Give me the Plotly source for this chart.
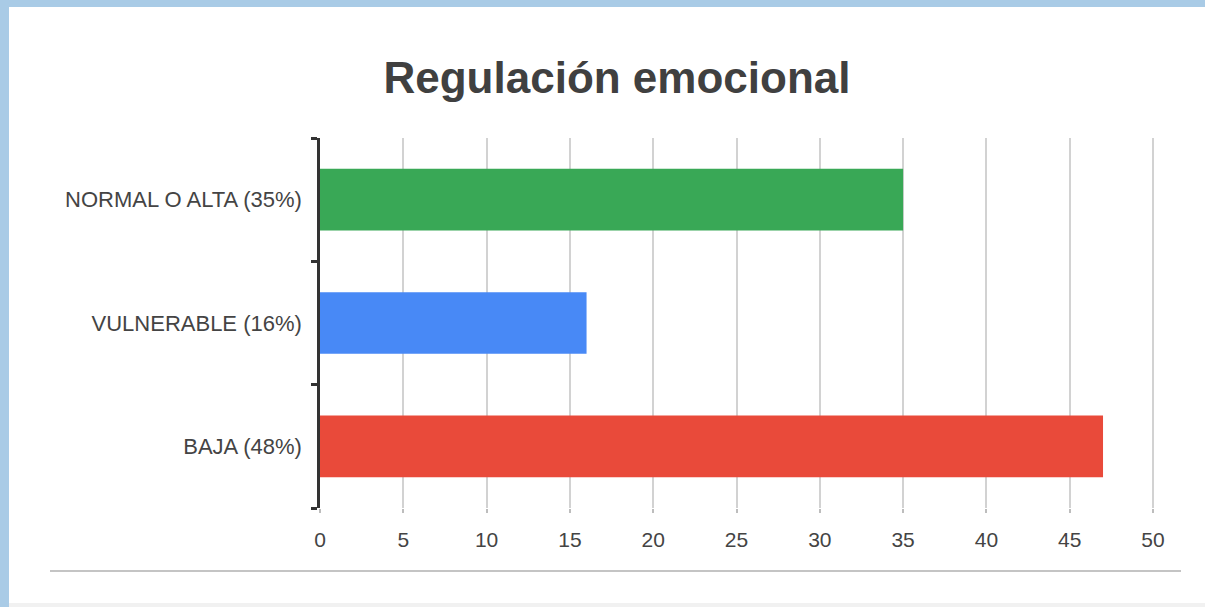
import plotly.graph_objects as go

# ---- data ----
categories = ["NORMAL O ALTA (35%)", "VULNERABLE (16%)", "BAJA (48%)"]
values = [35, 16, 47]
bar_colors = ["#39a856", "#4889f6", "#e94a3a"]
x_ticks = [0, 5, 10, 15, 20, 25, 30, 35, 40, 45, 50]
title_text = "Regulación emocional"

W, H = 1205, 607
L, R, T, B = 320, 1155, 138, 508  # plot area in pixels
X_MAX = 50.12


def px(x):
    return (x - L) / (R - L)


def py(y):
    return (B - y) / (B - T)


fig = go.Figure(
    go.Bar(
        x=values,
        y=categories,
        orientation="h",
        marker=dict(color=bar_colors, line=dict(width=0)),
        width=0.5,
        hoverinfo="x+y",
    )
)

shapes = [
    # white panel over the blue window frame
    dict(type="rect", xref="paper", yref="paper", layer="below",
         x0=px(9), x1=px(W + 5), y0=py(603), y1=py(7),
         fillcolor="white", line=dict(width=0)),
    # light bottom strip
    dict(type="rect", xref="paper", yref="paper", layer="below",
         x0=px(9), x1=px(W + 5), y0=py(H + 5), y1=py(603),
         fillcolor="#f1f1f1", line=dict(width=0)),
    # horizontal separator line
    dict(type="line", xref="paper", yref="paper",
         x0=px(50), x1=px(1181), y0=py(571), y1=py(571),
         line=dict(color="#c4c4c4", width=2)),
]

fig.update_layout(
    width=W,
    height=H,
    margin=dict(l=L, r=W - R, t=T, b=H - B, pad=0),
    paper_bgcolor="#a9cbe6",
    plot_bgcolor="white",
    showlegend=False,
    font=dict(family="Liberation Sans, Arial, sans-serif", color="#444444"),
    title=dict(
        text="<b>" + title_text + "</b>",
        x=617 / W, xref="container", xanchor="center",
        y=1 - 78 / H, yref="container", yanchor="middle",
        font=dict(size=44, color="#404040", family="Liberation Sans, Arial, sans-serif"),
    ),
    xaxis=dict(
        range=[0, X_MAX],
        tickvals=x_ticks,
        ticktext=[str(v) for v in x_ticks],
        showgrid=True,
        gridcolor="#d2d2d2",
        gridwidth=1.5,
        zeroline=False,
        showline=False,
        ticks="outside",
        ticklen=4,
        tickcolor="#bdbdbd",
        tickwidth=1.5,
        ticklabelstandoff=9,
        tickfont=dict(size=21, color="#444444"),
        fixedrange=True,
    ),
    yaxis=dict(
        categoryorder="array",
        categoryarray=categories[::-1],
        showgrid=False,
        zeroline=False,
        showline=True,
        linecolor="#333333",
        linewidth=2.5,
        ticks="outside",
        tickson="boundaries",
        ticklen=6,
        tickwidth=2.5,
        tickcolor="#333333",
        ticklabelstandoff=11,
        tickfont=dict(size=22, color="#444444"),
        fixedrange=True,
    ),
    shapes=shapes,
    bargap=0.5,
)

fig.write_html(
    "out.html",
    config={"displayModeBar": False},
    post_script="document.body.style.margin='0';document.body.style.background='#a9cbe6';",
)
